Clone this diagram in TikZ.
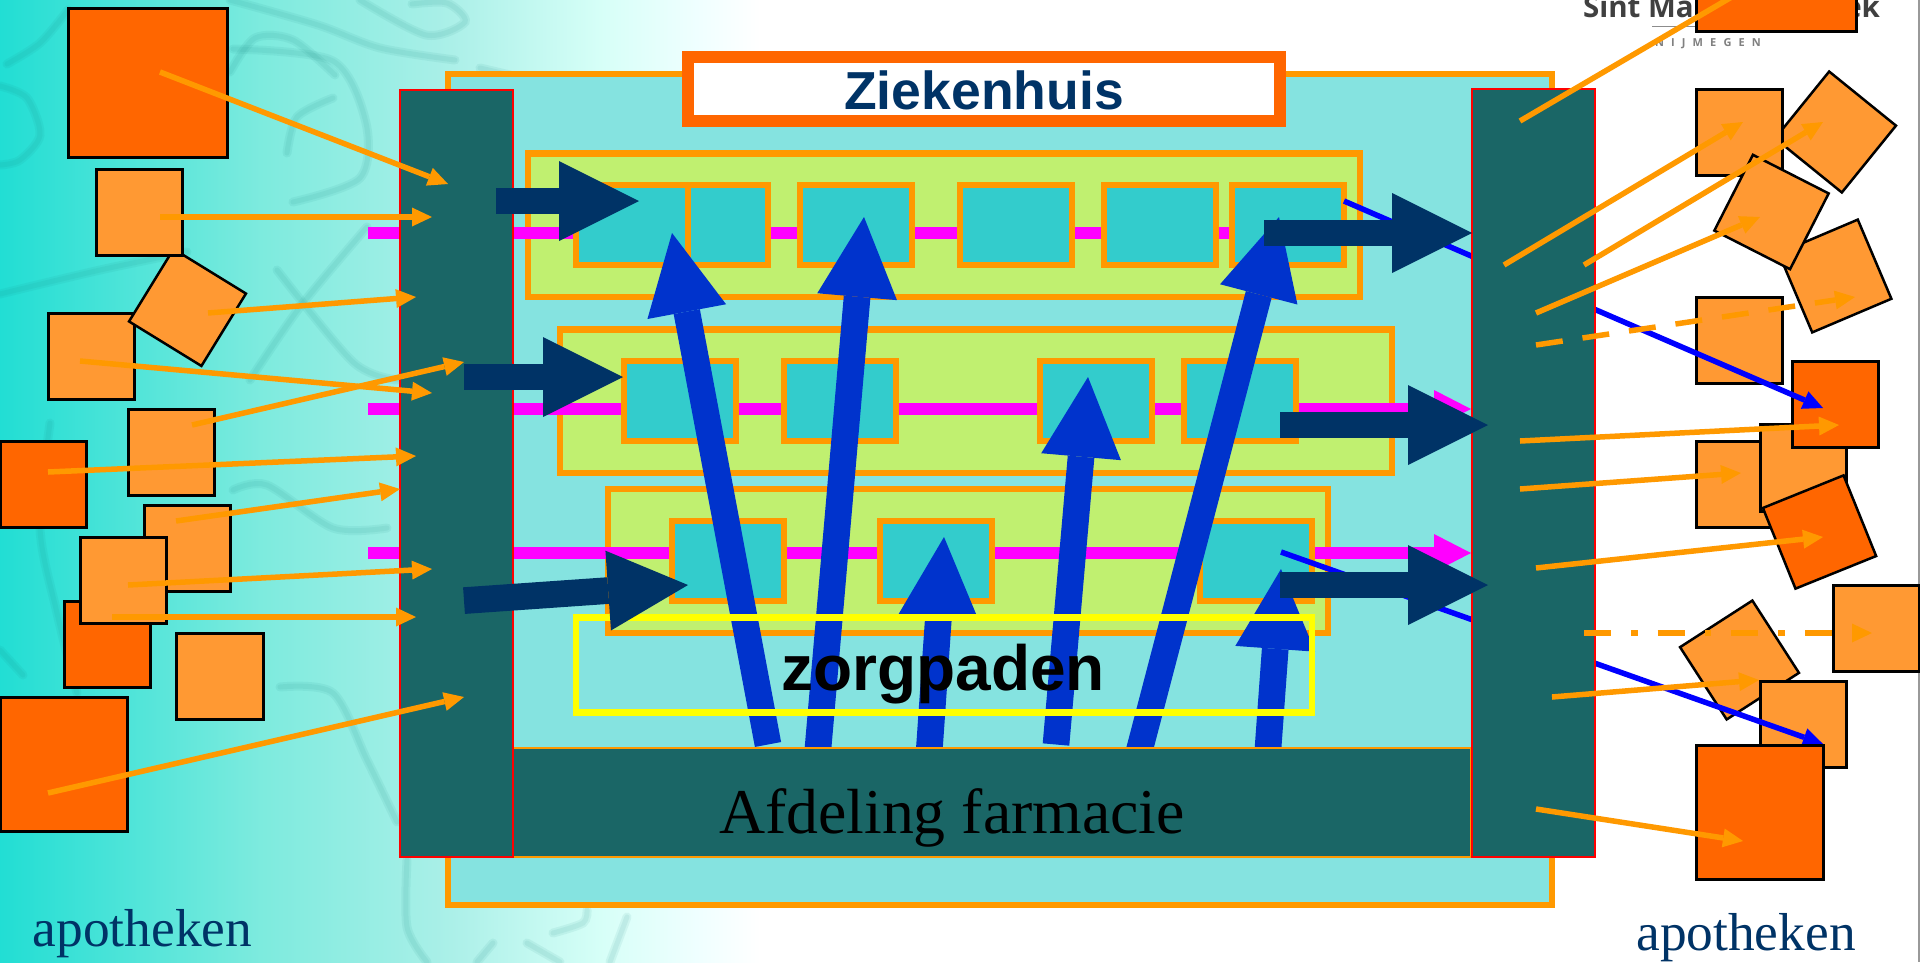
\documentclass[tikz,border=0pt]{standalone}
\usepackage{fontspec}
\setmainfont{Liberation Serif}
\newfontfamily\arialfont{Liberation Sans}
\newfontfamily\logofont{Open Sans}
\usetikzlibrary{arrows.meta}
\definecolor{hosp}{RGB}{133,227,224}
\definecolor{horange}{RGB}{255,153,0}
\definecolor{dorange}{RGB}{255,102,0}
\definecolor{lorange}{RGB}{255,153,51}
\definecolor{tealdark}{RGB}{26,102,102}
\definecolor{bandgreen}{RGB}{192,240,112}
\definecolor{cellteal}{RGB}{51,204,204}
\definecolor{navyb}{RGB}{0,51,102}
\definecolor{royal}{RGB}{0,51,204}
\definecolor{wmark}{RGB}{20,130,125}
\definecolor{puremag}{RGB}{255,0,255}
\definecolor{pureyel}{RGB}{255,255,0}
\definecolor{purered}{RGB}{255,0,0}
\definecolor{pureblue}{RGB}{0,0,255}
\pgfdeclarehorizontalshading{bgfade}{100bp}{rgb(0bp)=(.13,.87,.83);rgb(25bp)=(.13,.87,.83);rgb(42.1bp)=(.49,.92,.87);rgb(54.6bp)=(.67,.94,.91);rgb(64.5bp)=(.84,1,.97);rgb(71bp)=(.94,1,1);rgb(75bp)=(1,1,1);rgb(100bp)=(1,1,1)}
\tikzset{
  plain/.style={rectangle,inner sep=0pt,outer sep=0pt},
  lsq/.style={plain,draw=black,line width=2.5pt,fill=lorange},
  dsq/.style={plain,draw=black,line width=2.5pt,fill=dorange},
  band/.style={plain,draw=horange,line width=6.5pt,fill=bandgreen},
  cell/.style={plain,draw=horange,line width=6pt,fill=cellteal},
  column/.style={plain,draw=purered,line width=2.5pt,fill=tealdark},
  oarrow/.style={draw=horange,line width=5.5pt,-{Triangle[length=20pt,width=19pt,line width=0pt]}},
  bline/.style={draw=pureblue,line width=5.5pt,-{Triangle[length=20pt,width=19pt,line width=0pt]}},
  bigblue/.style={draw=royal,line width=26.67pt,-{Triangle[length=80pt,width=80pt,line width=0pt]}},
  bignavy/.style={draw=navyb,line width=26.67pt,-{Triangle[length=80pt,width=80pt,line width=0pt]}},
  magline/.style={draw=puremag,line width=12pt},
  magarrow/.style={draw=puremag,line width=12pt,-{Triangle[length=37pt,width=38pt,line width=0pt]}},
  wm/.style={draw=wmark,line width=9pt,opacity=.08,line cap=round},
  wmi/.style={draw=wmark,line width=5pt,opacity=.08,line cap=round}
}
\newcommand\bx[6]{\node[#2,minimum width={(#5-#3)*1pt},minimum height={(#6-#4)*1pt}] (#1) at ({(#3+#5)/2},{(#4+#6)/2}) {};}
\newcommand\sq[6]{\node[#2,minimum width={(#5-#3-1)*1pt},minimum height={(#6-#4-1)*1pt}] (#1) at ({(#3+#5)/2},{(#4+#6)/2}) {};}
\newcommand\rsq[6]{\node[#2,minimum width=#5pt,minimum height=#5pt,rotate=#6] (#1) at (#3,#4) {};}
\newcommand\ar[6]{\coordinate (#1s) at (#3,#4); \coordinate (#1e) at (#5,#6); \draw[#2] (#1s) -- (#1e);}
\newcommand\wmcurve[1]{\draw[wm] plot[smooth] coordinates {#1}; \draw[wmi] plot[smooth] coordinates {#1};}
\begin{document}
\begin{tikzpicture}[x=1pt,y=-1pt]
\useasboundingbox (0,0) rectangle (1920,962);
\clip (0,0) rectangle (1920,962);
\fill[white] (0,0) rectangle (1920,962);
\shade[shading=bgfade] (0,0) rectangle (760,962);
% watermark
\wmcurve{(230,0) (318,25) (380,48) (455,60)}
\wmcurve{(360,0) (426,35) (465,22) (447,3) (412,4)}
\wmcurve{(230,72) (255,38) (293,40) (335,75)}
\wmcurve{(7,64) (40,43) (68,10)}
\wmcurve{(233,49) (333,61) (366,123) (360,178) (293,202)}
\wmcurve{(287,153) (297,117) (333,98)}
\wmcurve{(0,86) (27,98) (40,135) (20,160) (0,165)}
\wmcurve{(0,294) (100,270) (187,252)}
\wmcurve{(277,270) (353,362) (397,380)}
\wmcurve{(367,227) (300,307) (250,380)}
\wmcurve{(50,423) (40,528) (57,613) (77,693)}
\wmcurve{(233,490) (267,485) (333,528) (387,528)}
\wmcurve{(280,687) (333,693) (367,760) (397,822)}
\wmcurve{(0,650) (23,675)}
\wmcurve{(407,860) (407,927) (427,962)}
\wmcurve{(553,933) (583,923) (587,910)}
\wmcurve{(527,943) (560,962)}
\wmcurve{(493,943) (477,962)}
\wmcurve{(627,917) (610,962)}
\wmcurve{(480,68) (510,75)}
% right edge of the slide
\draw[draw=black!40,line width=1.5pt] (1919,0) -- (1919,962);
% logo
\node[plain,anchor=base west,text=black!75] (logoa) at (1583,17) {\logofont\bfseries\fontsize{29.5}{34}\selectfont Sint Ma};
\node[plain,anchor=base east,text=black!75] (logob) at (1880,17) {\logofont\bfseries\fontsize{29.5}{34}\selectfont ek};
\draw[draw=black!45,line width=1pt] (1652,26) -- (1696,26);
\node[plain,anchor=base west,text=black!50] (logoc) at (1655,46) {\logofont\bfseries\fontsize{11}{13}\addfontfeature{LetterSpace=65}\selectfont NIJMEGEN};
% hospital
\bx{hospital}{plain,draw=horange,line width=6pt,fill=hosp}{448}{73.5}{1552}{905}
\bx{titlebox}{plain,draw=dorange,line width=12pt,fill=white}{688}{57}{1280}{121}
\node[plain,anchor=base,text=navyb] (title) at (984,109) {\arialfont\bfseries\fontsize{53.5}{60}\selectfont Ziekenhuis};
% bands
\bx{banda}{band}{528}{153.5}{1360}{297}
\bx{bandb}{band}{560}{329.5}{1392}{473}
\bx{bandc}{band}{608}{489}{1328}{633}
% magenta lines
\coordinate (ma) at (368,233); \coordinate (mae) at (1232,233);
\coordinate (mb) at (368,409); \coordinate (mbe) at (1471,409);
\coordinate (mc) at (368,553); \coordinate (mce) at (1471,553);
\draw[magline] (ma) -- (mae);
\draw[magarrow] (mb) -- (mbe);
\draw[magarrow] (mc) -- (mce);
% cells
\bx{ca}{cell}{576}{185}{688}{265}
\bx{cb}{cell}{688}{185}{768}{265}
\bx{cc}{cell}{800}{185}{912}{265}
\bx{cd}{cell}{960}{185}{1072}{265}
\bx{ce}{cell}{1104}{185}{1216}{265}
\bx{cf}{cell}{1232}{185}{1344}{265}
\bx{cg}{cell}{624}{361}{736}{441}
\bx{ch}{cell}{784}{361}{896}{441}
\bx{ci}{cell}{1040}{361}{1152}{441}
\bx{cj}{cell}{1184}{361}{1296}{441}
\bx{ck}{cell}{672}{521}{784}{601}
\bx{cl}{cell}{880}{521}{992}{601}
\bx{cm}{cell}{1200}{521}{1312}{601}
% left pharmacies
\sq{la}{dsq}{68}{8}{228}{158}
\sq{ld}{lsq}{48}{313}{135}{400}
\rsq{lc}{lsq}{187.5}{307.5}{85}{-31.6}
\sq{lb}{lsq}{96}{169}{183}{256}
\sq{le}{lsq}{128}{409}{215}{496}
\sq{lf}{dsq}{0}{441}{87}{528}
\sq{li}{dsq}{64}{601}{151}{688}
\sq{lg}{lsq}{144}{505}{231}{592}
\sq{lh}{lsq}{80}{537}{167}{624}
\sq{lj}{lsq}{176}{633}{264}{720}
\sq{lk}{dsq}{0}{697}{128}{832}
% right pharmacies
\sq{ra}{dsq}{1696}{-118}{1857}{32}
\rsq{rc}{lsq}{1835.5}{132}{86}{-39}
\sq{rb}{lsq}{1696}{89}{1783}{176}
\rsq{re}{lsq}{1835}{276}{86}{23}
\rsq{rd}{lsq}{1771.5}{212}{85}{-27}
\sq{rf}{lsq}{1696}{297}{1783}{384}
\sq{ri}{lsq}{1696}{441}{1783}{528}
\sq{rh}{lsq}{1760}{424}{1847}{512}
\sq{rg}{dsq}{1792}{361}{1879}{448}
\rsq{rj}{dsq}{1819.5}{532}{87}{22}
\sq{rk}{lsq}{1833}{585}{1920}{672}
\rsq{rl}{lsq}{1739.5}{660}{86}{32.8}
\sq{rm}{lsq}{1760}{681}{1847}{768}
% blue connectors
\ar{bla}{bline}{1344}{201}{1823}{408}
\ar{blb}{bline}{1281}{552}{1823}{744}
\sq{rn}{dsq}{1696}{745}{1824}{880}
% big blue arrows
\ar{ba}{bigblue}{768}{744.5}{672}{233}
\ar{bb}{bigblue}{817.5}{754}{864}{217}
\ar{bc}{bigblue}{929}{754}{944}{537}
\ar{bd}{bigblue}{1056}{744.5}{1088}{377}
\ar{be}{bigblue}{1138.4}{754}{1279}{217}
\ar{bf}{bigblue}{1267.6}{754}{1281}{569}
% pharmacy department
\bx{bar}{plain,draw=horange,line width=1.5pt,fill=tealdark}{513}{748}{1471}{857}
\bx{colleft}{column}{400}{90}{513}{857}
\bx{colright}{column}{1472}{89}{1595}{857}
\node[plain,anchor=base] (afd) at (952,833) {\fontsize{63.8}{70}\selectfont Afdeling farmacie};
% zorgpaden
\bx{zorg}{plain,draw=pureyel,line width=6.5pt}{576}{617.5}{1312}{712.5}
\node[plain,anchor=base] (zorgtxt) at (943,690) {\arialfont\bfseries\fontsize{64}{72}\selectfont zorgpaden};
% navy arrows
\ar{na}{bignavy}{496}{201}{639}{201}
\ar{nb}{bignavy}{464}{377}{623}{377}
\ar{nc}{bignavy}{464}{600.6}{688}{585}
\ar{nd}{bignavy}{1264}{233}{1472}{233}
\ar{ne}{bignavy}{1280}{425}{1488}{425}
\ar{nf}{bignavy}{1280}{585}{1488}{585}
% orange arrows, left
\ar{oa}{oarrow}{160}{72}{448}{184}
\ar{ob}{oarrow}{160}{217}{432}{217}
\ar{oc}{oarrow}{208}{313}{416}{297}
\ar{od}{oarrow}{80}{361}{432}{393}
\ar{oe}{oarrow}{192}{425}{464}{362}
\ar{of}{oarrow}{48}{472}{416}{456}
\ar{og}{oarrow}{176}{521}{400}{489}
\ar{oh}{oarrow}{128}{585}{432}{569}
\ar{oi}{oarrow}{112}{617}{416}{617}
\ar{oj}{oarrow}{48}{793}{464}{697}
% orange arrows, right
\ar{pa}{oarrow}{1520}{121}{1776}{-29}
\ar{pb}{oarrow}{1504}{265}{1743}{122}
\ar{pc}{oarrow}{1584}{265}{1823}{122}
\ar{pd}{oarrow}{1536}{313}{1760}{217}
\ar{pe}{oarrow,dash pattern=on 27pt off 20pt}{1536}{345}{1855}{297}
\ar{pf}{oarrow}{1520}{441}{1839}{425}
\ar{pg}{oarrow}{1520}{489}{1741}{473}
\ar{ph}{oarrow}{1536}{568}{1823}{537}
\ar{pi}{oarrow,dash pattern=on 27pt off 20pt on 6.67pt off 20pt}{1584}{633}{1872}{633}
\ar{pj}{oarrow}{1552}{697}{1759}{680}
\ar{pk}{oarrow}{1536}{809}{1743}{841}
% captions
\node[plain,anchor=base,text=navyb] (apleft) at (142.5,946) {\fontsize{53.4}{60}\selectfont apotheken};
\node[plain,anchor=base,text=navyb] (apright) at (1746,950) {\fontsize{53.4}{60}\selectfont apotheken};
\end{tikzpicture}
\end{document}
